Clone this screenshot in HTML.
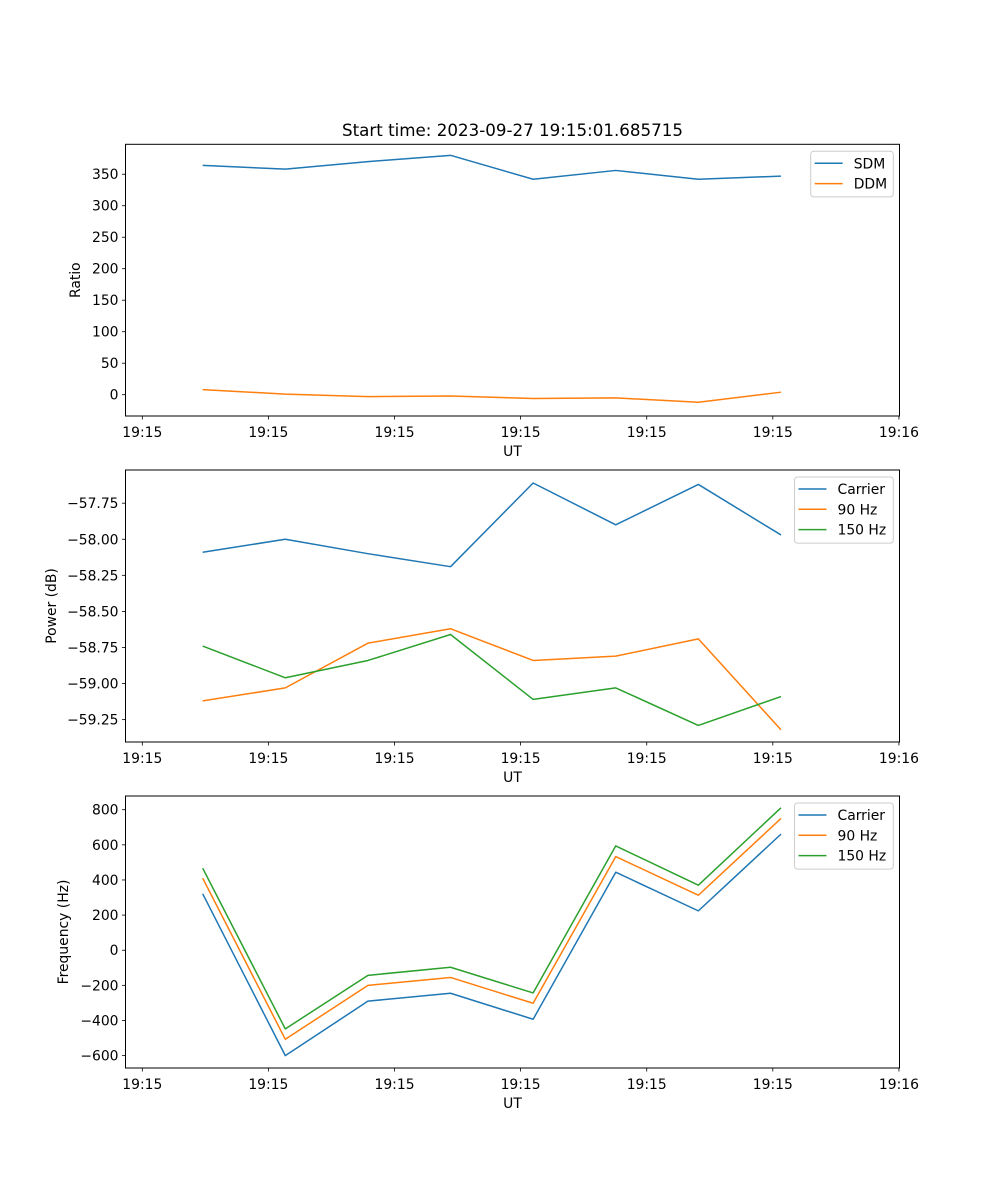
<!DOCTYPE html>
<html><head><meta charset="utf-8"><style>
body{margin:0;background:#fff}
svg{display:block;font-family:"DejaVu Sans","Liberation Sans",sans-serif}
</style></head><body>
<svg id="fig" width="1000" height="1200" viewBox="0 0 1000 1200" xmlns="http://www.w3.org/2000/svg">
<rect width="1000" height="1200" fill="#fff"/>
<text x="512.5" y="136" font-size="16.7" text-anchor="middle">Start time: 2023-09-27 19:15:01.685715</text>
</svg>
<script>
// sample index (time order) of each data point
const sampleIdx = [0,1,2,3,4,5,6,7];
const xTickVals = [-0.731,0.795,2.322,3.848,5.375,6.901,8.428];
const xTickLabels = ["19:15","19:15","19:15","19:15","19:15","19:15","19:16"];

const sdm = [364,358,370,380,342,356,342,347];
const ddm = [8,1,-3,-2,-6,-5,-12,4];
const ratioTicks = [0,50,100,150,200,250,300,350];

const powCarrier = [-58.09,-58.00,-58.10,-58.19,-57.61,-57.90,-57.62,-57.97];
const pow90 = [-59.12,-59.03,-58.72,-58.62,-58.84,-58.81,-58.69,-59.32];
const pow150 = [-58.74,-58.96,-58.84,-58.66,-59.11,-59.03,-59.29,-59.09];
const powTicks = [-59.25,-59.00,-58.75,-58.50,-58.25,-58.00,-57.75];

const frqCarrier = [321,-600,-290,-245,-393,444,224,661];
const frq90 = [410,-507,-200,-155,-302,533,313,750];
const frq150 = [467,-448,-143,-97,-243,594,370,811];
const frqTicks = [-600,-400,-200,0,200,400,600,800];

const C = {blue:'#1f77b4',orange:'#ff7f0e',green:'#2ca02c'};
const NS='http://www.w3.org/2000/svg';
const svg=document.getElementById('fig');
function mk(tag,attrs,parent){const e=document.createElementNS(NS,tag);for(const k in attrs)e.setAttribute(k,attrs[k]);(parent||svg).appendChild(e);return e;}

const L=125.5,R=899.5;
const xScale=i=>202.7+i*82.61;

function panel(name,top,bottom,yMin,yMax,ticks,fmt,ylabel,series,legend){
  const g=mk('g',{});
  
  
  const y=v=>bottom-(v-yMin)/(yMax-yMin)*(bottom-top);
  series.forEach(s=>{
    const pts=s.vals.map((v,i)=>xScale(sampleIdx[i]).toFixed(2)+','+y(v).toFixed(2)).join(' ');
    const p=mk('polyline',{points:pts,fill:'none',stroke:s.color,'stroke-width':1.5,'stroke-linejoin':'round'},g);
    
    
  });
  const fr=mk('rect',{x:L,y:top,width:R-L,height:bottom-top,fill:'none',stroke:'#000','stroke-width':1},g);
  
  
  ticks.forEach(t=>{
    const yy=y(t);
    mk('line',{x1:L,x2:L-3.5,y1:yy,y2:yy,stroke:'#000','stroke-width':0.8},g);
    const tx=mk('text',{x:L-7,y:yy+5,'font-size':13.9,'text-anchor':'end'},g);
    tx.textContent=fmt(t);
    
    
  });
  xTickVals.forEach((t,k)=>{
    const xx=xScale(t);
    mk('line',{x1:xx,x2:xx,y1:bottom,y2:bottom+3.5,stroke:'#000','stroke-width':0.8},g);
    const tx=mk('text',{x:xx,y:bottom+21,'font-size':13.9,'text-anchor':'middle'},g);
    tx.textContent=xTickLabels[k];
    
    
  });
  const xl=mk('text',{x:512.5,y:bottom+40,'font-size':13.9,'text-anchor':'middle'},g);
  xl.textContent='UT';
  
  
  const cy=(top+bottom)/2;
  const yl=mk('text',{x:0,y:0,'font-size':13.9,'text-anchor':'middle',transform:`translate(${legend.ylx},${cy}) rotate(-90)`},g);
  yl.textContent=ylabel;
  
  
  const lg=mk('g',{},g);
  
  
  const h=4.6+series.length*20.5;
  mk('rect',{x:legend.x,y:top+7,width:893.3-legend.x,height:h,rx:3,fill:'#fff','fill-opacity':0.8,stroke:'#ccc','stroke-width':1},lg);
  series.forEach((s,i)=>{
    const yy=top+19+i*20.3;
    const e=mk('g',{},lg);
    
    
    mk('line',{x1:legend.x+4,x2:legend.x+32,y1:yy,y2:yy,stroke:s.color,'stroke-width':1.5},e);
    const t=mk('text',{x:legend.x+43,y:yy+5,'font-size':13.9},e);
    t.textContent=s.label;
  });
}

panel('ratio',144.3,416,-33.8,397.5,ratioTicks,v=>String(v),'Ratio',
  [{key:'sdm',label:'SDM',vals:sdm,color:C.blue},{key:'ddm',label:'DDM',vals:ddm,color:C.orange}],
  {x:810.7,ylx:80});
panel('power',470,742,-59.405,-57.52,powTicks,v=>'\u2212'+Math.abs(v).toFixed(2),'Power (dB)',
  [{key:'carrier',label:'Carrier',vals:powCarrier,color:C.blue},{key:'90hz',label:'90 Hz',vals:pow90,color:C.orange},{key:'150hz',label:'150 Hz',vals:pow150,color:C.green}],
  {x:794.5,ylx:56});
panel('frequency',796,1068,-670.5,878,frqTicks,v=>(v<0?'\u2212':'')+Math.abs(v),'Frequency (Hz)',
  [{key:'carrier',label:'Carrier',vals:frqCarrier,color:C.blue},{key:'90hz',label:'90 Hz',vals:frq90,color:C.orange},{key:'150hz',label:'150 Hz',vals:frq150,color:C.green}],
  {x:794.5,ylx:68});
</script>
</body></html>
